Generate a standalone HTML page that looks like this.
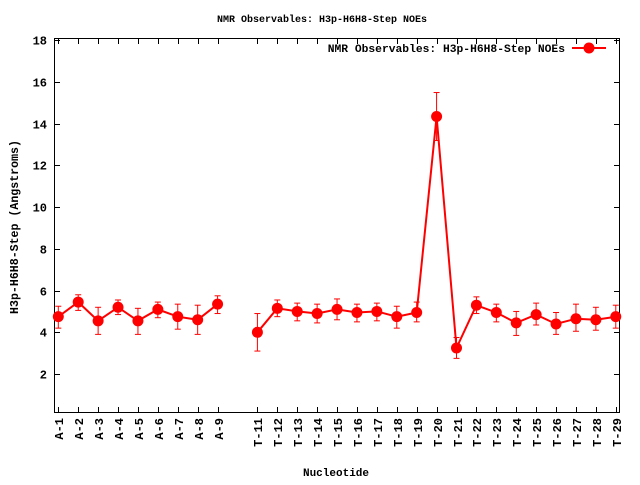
<!DOCTYPE html>
<html><head><style>body{margin:0;background:#fff}svg text{font-family:"Liberation Mono",monospace;font-size:11px;font-weight:bold;fill:#000}</style></head>
<body>
<svg width="640" height="480" xmlns="http://www.w3.org/2000/svg">
<rect x="0" y="0" width="640" height="480" fill="#fff"/>
<rect x="54.5" y="38.5" width="565" height="374" fill="none" stroke="#000" stroke-width="1"/>
<g id="yt" stroke="#000"></g>
<g id="xt" stroke="#000"></g>
<g id="lbl"></g>
<text x="322" y="22" text-anchor="middle" style="font-size:10px">NMR Observables: H3p-H6H8-Step NOEs</text>
<text x="336" y="476" text-anchor="middle">Nucleotide</text>
<text transform="translate(18,227) rotate(-90)" text-anchor="middle" style="font-size:11.6px">H3p-H6H8-Step (Angstroms)</text>
<text x="565" y="52" text-anchor="end" style="font-size:11.3px">NMR Observables: H3p-H6H8-Step NOEs</text>
<line x1="572" y1="48" x2="606" y2="48" stroke="#f00" stroke-width="2"/>
<circle cx="589" cy="48" r="5.5" fill="#f00"/>
<g id="data"></g>
</svg>
<script>
const NS="http://www.w3.org/2000/svg";
function Y(v){return 415.7-20.85*v}
function X(i){return 58.3+(i-1)*19.91}
function el(p,t,a,txt){const e=document.createElementNS(NS,t);for(const k in a)e.setAttribute(k,a[k]);if(txt)e.textContent=txt;document.getElementById(p).appendChild(e);return e}
for(let v=2;v<=18;v+=2){const y=Math.round(Y(v))+0.5;el('yt','line',{x1:54.5,y1:y,x2:60,y2:y});el('yt','line',{x1:614,y1:y,x2:619.5,y2:y});el('lbl','text',{x:47,y:y+4,'text-anchor':'end',style:'font-size:12px'},String(v));}
const d=[[1,'A-1',4.75,4.2,5.25],[2,'A-2',5.45,5.05,5.8],[3,'A-3',4.55,3.9,5.2],[4,'A-4',5.2,4.85,5.55],[5,'A-5',4.55,3.9,5.15],[6,'A-6',5.1,4.7,5.45],[7,'A-7',4.75,4.15,5.35],[8,'A-8',4.6,3.9,5.3],[9,'A-9',5.35,4.9,5.75],
[11,'T-11',4.0,3.1,4.9],[12,'T-12',5.15,4.75,5.55],[13,'T-13',5.0,4.55,5.4],[14,'T-14',4.9,4.45,5.35],[15,'T-15',5.1,4.6,5.6],[16,'T-16',4.95,4.5,5.35],[17,'T-17',5.0,4.55,5.4],[18,'T-18',4.75,4.2,5.25],[19,'T-19',4.95,4.5,5.45],[20,'T-20',14.35,13.2,15.5],[21,'T-21',3.25,2.75,3.75],[22,'T-22',5.3,4.9,5.7],[23,'T-23',4.95,4.5,5.35],[24,'T-24',4.45,3.85,5.0],[25,'T-25',4.85,4.35,5.4],[26,'T-26',4.4,3.9,4.95],[27,'T-27',4.65,4.05,5.35],[28,'T-28',4.6,4.1,5.2],[29,'T-29',4.75,4.2,5.3]];
for(const r of d){const x=Math.round(X(r[0]))+0.5;el('xt','line',{x1:x,y1:412.5,x2:x,y2:407});el('xt','line',{x1:x,y1:38.5,x2:x,y2:44});
el('lbl','text',{transform:`translate(${x+4.5},418) rotate(-90)`,'text-anchor':'end',style:'font-size:12px'},r[1]);}
let pts=[];let seg=[];
for(const r of d){if(r[0]==11){pts.push(seg);seg=[];}seg.push(X(r[0]).toFixed(1)+','+Y(r[2]).toFixed(1));}
pts.push(seg);
for(const s of pts)el('data','polyline',{points:s.join(' '),fill:'none',stroke:'#f00','stroke-width':2});
for(const r of d){const x=X(r[0]);el('data','line',{x1:x,y1:Y(r[3]),x2:x,y2:Y(r[4]),stroke:'#f00'});
el('data','line',{x1:x-3,y1:Y(r[3]),x2:x+3,y2:Y(r[3]),stroke:'#f00'});el('data','line',{x1:x-3,y1:Y(r[4]),x2:x+3,y2:Y(r[4]),stroke:'#f00'});
el('data','circle',{cx:x,cy:Y(r[2]),r:5.5,fill:'#f00'});}
</script>
</body></html>
